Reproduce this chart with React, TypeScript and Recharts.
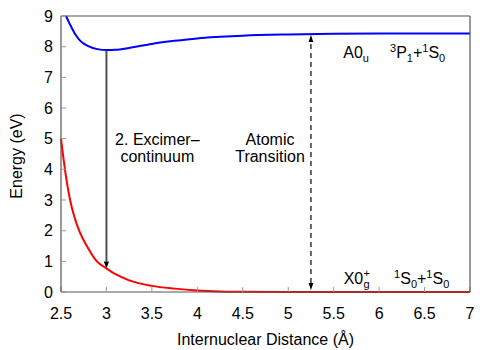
import React from 'react';
import { LineChart, Line, XAxis, YAxis, ReferenceLine, ReferenceDot, Label } from 'recharts';

// axis ticks
const xTicks = [2.5, 3, 3.5, 4, 4.5, 5, 5.5, 6, 6.5, 7];
const yTicks = [0, 1, 2, 3, 4, 5, 6, 7, 8, 9];

// upper potential curve A0u (blue)
const upperR = [2.555, 2.6, 2.65, 2.7, 2.75, 2.8, 2.9, 3.0, 3.1, 3.25, 3.5, 3.75, 4.0, 4.25, 4.5, 5.0, 5.5, 6.0, 7.0];
const upperE = [9.0, 8.72, 8.44, 8.23, 8.1, 8.02, 7.92, 7.89, 7.9, 7.96, 8.09, 8.19, 8.27, 8.32, 8.36, 8.4, 8.42, 8.43, 8.43];

// ground state curve X0g+ (red)
const lowerR = [2.5, 2.55, 2.6, 2.65, 2.7, 2.8, 2.9, 3.0, 3.1, 3.25, 3.5, 3.75, 4.0, 4.25, 4.5, 5.0, 6.0, 7.0];
const lowerE = [5.0, 3.86, 3.0, 2.42, 2.0, 1.42, 0.98, 0.77, 0.58, 0.38, 0.2, 0.11, 0.05, 0.02, 0.01, 0.0, 0.0, 0.0];

// transitions (arrows)
const excimerArrow = { r: 3.0, from: 7.89, to: 0.77 };
const atomicArrow = { r: 5.25, from: 0.03, to: 8.41 };

// text annotations (data coordinates of baseline anchor)
const excimerLabel = { r: 3.56, e: 4.79, lines: ['2. Excimer\u2013', 'continuum'] };
const atomicLabel = { r: 4.8, e: 4.79, lines: ['Atomic', 'Transition'] };
const upperStateLabel = { r: 5.605, e: 7.62 };
const upperAsymLabel = { r: 6.12, e: 7.62 };
const lowerStateLabel = { r: 5.61, e: 0.26 };
const lowerAsymLabel = { r: 6.165, e: 0.26 };

const upperData = upperR.map((x, i) => ({ x, y: upperE[i] }));
const lowerData = lowerR.map((x, i) => ({ x, y: lowerE[i] }));

const FONT = '"Liberation Sans", Arial, Helvetica, sans-serif';
const FS = 16;
const SS = 11;

const tickStyle = { fill: '#000', fontSize: FS, fontFamily: FONT };

const SolidArrow = (p: any) => {
  const { x1, y1, x2, y2 } = p;
  const L = 7;
  const W = 2.6;
  return (
    <g>
      <line x1={x1} y1={y1} x2={x2} y2={y2 - L} stroke="#505050" strokeWidth={2} />
      <polygon points={`${x2},${y2} ${x2 - W},${y2 - L} ${x2 + W},${y2 - L}`} fill="#000" />
    </g>
  );
};

const DashedDoubleArrow = (p: any) => {
  const { x1, y1, x2, y2 } = p;
  const L = 7;
  const W = 2.4;
  const yb = y1 - 1;
  const yt = y2 + 1;
  return (
    <g>
      <line x1={x1} y1={yb - L} x2={x2} y2={yt + L} stroke="#000" strokeWidth={1.2} strokeDasharray="5 4" />
      <polygon points={`${x1},${yb} ${x1 - W},${yb - L} ${x1 + W},${yb - L}`} fill="#000" />
      <polygon points={`${x2},${yt} ${x2 - W},${yt + L} ${x2 + W},${yt + L}`} fill="#000" />
    </g>
  );
};

const twoLine = (lines: string[]) => (p: any) => (
  <text x={p.cx} y={p.cy} textAnchor="middle" fontSize={FS} fontFamily={FONT} fill="#000">
    <tspan x={p.cx} dy={0}>{lines[0]}</tspan>
    <tspan x={p.cx} dy={17}>{lines[1]}</tspan>
  </text>
);

const UpperStateText = (p: any) => (
  <text x={p.cx} y={p.cy} fontSize={FS} fontFamily={FONT} fill="#000">
    A0<tspan fontSize={SS} dy={4}>u</tspan>
  </text>
);

const LowerStateText = (p: any) => (
  <g>
    <text x={p.cx} y={p.cy} fontSize={FS} fontFamily={FONT} fill="#000">X0</text>
    <text x={p.cx + 19.8} y={p.cy + 4} fontSize={SS} fontFamily={FONT} fill="#000">g</text>
    <text x={p.cx + 19.8} y={p.cy - 7} fontSize={SS} fontFamily={FONT} fill="#000">+</text>
  </g>
);

const AsymText = (first: string, second: string) => (p: any) => (
  <text x={p.cx} y={p.cy} fontSize={FS} fontFamily={FONT} fill="#000">
    <tspan fontSize={SS} dy={-6}>{first}</tspan>
    <tspan fontSize={FS} dy={6}>{second}</tspan>
    <tspan fontSize={SS} dy={4}>{first === '3' ? '1' : '0'}</tspan>
    <tspan fontSize={FS} dy={-4}>+</tspan>
    <tspan fontSize={SS} dy={-6}>1</tspan>
    <tspan fontSize={FS} dy={6}>S</tspan>
    <tspan fontSize={SS} dy={4}>0</tspan>
  </text>
);

const YLabel = (p: any) => {
  const vb = p.viewBox || { x: 0, y: 0, width: 0, height: 0 };
  const cy = vb.y + vb.height / 2 + 2;
  const x = 22;
  return (
    <text
      x={x}
      y={cy}
      transform={`rotate(-90, ${x}, ${cy})`}
      textAnchor="middle"
      fontSize={FS}
      fontFamily={FONT}
      fill="#000"
    >
      Energy (eV)
    </text>
  );
};

export default function App() {
  return (
    <div style={{ position: 'absolute', left: 0, top: 0, width: 500, height: 350, background: '#fff' }}>
      <LineChart width={500} height={350} margin={{ top: 15, right: 29, bottom: 0, left: 21 }} style={{ fontFamily: FONT }}>
        <XAxis
          dataKey="x"
          type="number"
          domain={[2.5, 7]}
          ticks={xTicks}
          interval={0}
          height={58}
          tickSize={-5}
          tickMargin={21}
          axisLine={{ stroke: '#555', strokeWidth: 1.2 }}
          tickLine={{ stroke: '#999' }}
          tick={tickStyle}
        >
          <Label value="Internuclear Distance (Å)" position="insideBottom" offset={5} fill="#000" fontSize={FS} fontFamily={FONT} />
        </XAxis>
        <XAxis
          xAxisId="top"
          orientation="top"
          type="number"
          domain={[2.5, 7]}
          ticks={xTicks}
          interval={0}
          height={1}
          tickSize={-5}
          axisLine={{ stroke: '#555', strokeWidth: 1.2 }}
          tickLine={{ stroke: '#999' }}
          tick={() => <g />}
        />
        <YAxis
          type="number"
          domain={[0, 9]}
          ticks={yTicks}
          interval={0}
          width={40}
          tickSize={-5}
          tickMargin={13}
          axisLine={{ stroke: '#555', strokeWidth: 1.2 }}
          tickLine={{ stroke: '#999' }}
          tick={tickStyle}
          label={{ content: YLabel }}
        />
        <YAxis
          yAxisId="right"
          orientation="right"
          type="number"
          domain={[0, 9]}
          ticks={yTicks}
          interval={0}
          width={1}
          tickSize={-5}
          axisLine={{ stroke: '#555', strokeWidth: 1.2 }}
          tickLine={{ stroke: '#999' }}
          tick={() => <g />}
        />
        <ReferenceLine
          segment={[{ x: excimerArrow.r, y: excimerArrow.from }, { x: excimerArrow.r, y: excimerArrow.to }]}
          shape={SolidArrow}
        />
        <ReferenceLine
          segment={[{ x: atomicArrow.r, y: atomicArrow.from }, { x: atomicArrow.r, y: atomicArrow.to }]}
          shape={DashedDoubleArrow}
        />
        <Line data={upperData} dataKey="y" type="monotone" stroke="#0000ff" strokeWidth={2} dot={false} activeDot={false} isAnimationActive={false} />
        <Line data={lowerData} dataKey="y" type="monotone" stroke="#ff0000" strokeWidth={2} dot={false} activeDot={false} isAnimationActive={false} />
        <ReferenceDot x={excimerLabel.r} y={excimerLabel.e} r={0} shape={twoLine(excimerLabel.lines)} />
        <ReferenceDot x={atomicLabel.r} y={atomicLabel.e} r={0} shape={twoLine(atomicLabel.lines)} />
        <ReferenceDot x={upperStateLabel.r} y={upperStateLabel.e} r={0} shape={UpperStateText} />
        <ReferenceDot x={upperAsymLabel.r} y={upperAsymLabel.e} r={0} shape={AsymText('3', 'P')} />
        <ReferenceDot x={lowerStateLabel.r} y={lowerStateLabel.e} r={0} shape={LowerStateText} />
        <ReferenceDot x={lowerAsymLabel.r} y={lowerAsymLabel.e} r={0} shape={AsymText('1', 'S')} />
      </LineChart>
    </div>
  );
}
